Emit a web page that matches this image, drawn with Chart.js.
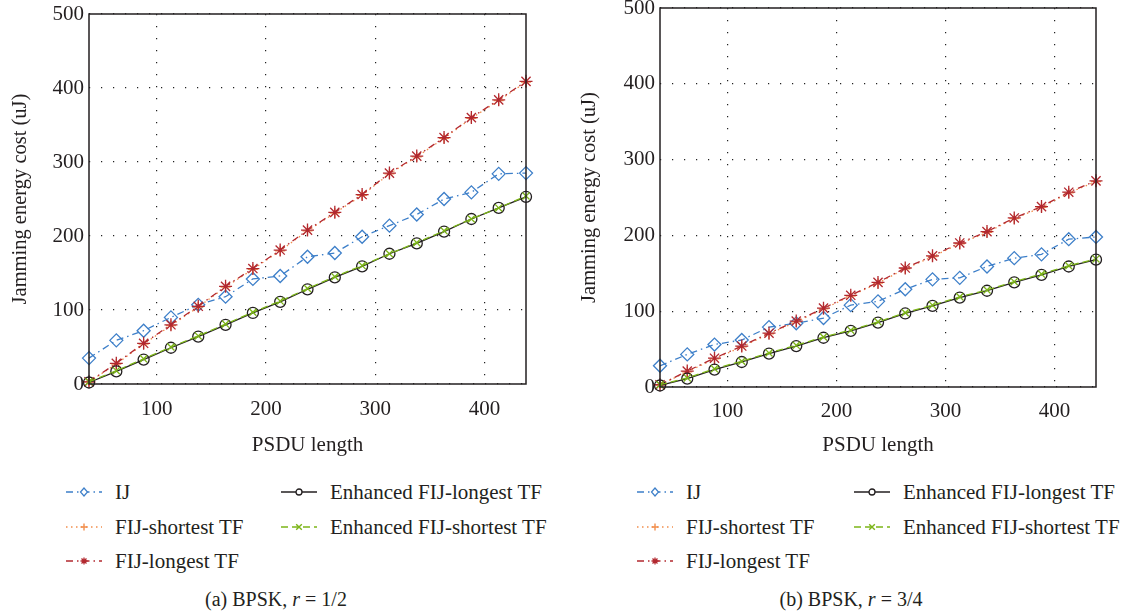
<!DOCTYPE html>
<html>
<head>
<meta charset="utf-8">
<script src="https://cdn.jsdelivr.net/npm/chart.js@4.4.1/dist/chart.umd.min.js"></script>
<style>
body{margin:0;background:#fff;width:1126px;height:616px;position:relative;overflow:hidden;font-family:"Liberation Serif",serif;color:#231f20}
.panel{position:absolute;top:0;width:563px;height:460px}
.item{position:absolute;white-space:nowrap;display:flex;align-items:center;font-size:21px;height:24px;margin-top:-12px}
.item svg{margin-right:13px}
.caption{position:absolute;top:588px;font-size:20px;transform:translateX(-50%);white-space:nowrap}
</style>
</head>
<body>
<div class="panel" style="left:0"><canvas id="chartA" width="563" height="460"></canvas></div>
<div class="panel" style="left:563px"><canvas id="chartB" width="563" height="460"></canvas></div>
<div id="legendA"></div>
<div id="legendB"></div>
<div class="caption" style="left:276px">(a) BPSK, <i>r</i> = 1/2</div>
<div class="caption" style="left:851px">(b) BPSK, <i>r</i> = 3/4</div>
<script>
// PSDU length (x values)
const psdu = [38, 63, 88, 113, 138, 163, 188, 213, 238, 263, 288, 313, 338, 363, 388, 413, 438];
const yTicks = [0, 100, 200, 300, 400, 500];
const xTicks = [100, 200, 300, 400];

// (a) BPSK r = 1/2
const ijA        = [35, 59, 72, 90, 107, 118, 142, 146, 172, 177, 199, 214, 229, 250, 259, 284, 285];
const fijShortA  = [3, 27, 54, 79, 104, 131, 155, 180, 207, 231, 255, 284, 307, 332, 359, 383, 408];
const fijLongA   = [3, 28, 55, 80, 105, 132, 156, 181, 208, 232, 256, 285, 308, 333, 360, 384, 409];
const enhLongA   = [2, 17, 33, 49, 64, 80, 96, 111, 128, 144, 159, 176, 190, 206, 223, 238, 253];
const enhShortA  = [3, 18, 34, 50, 65, 81, 97, 112, 129, 145, 160, 176, 191, 207, 223, 238, 254];

// (b) BPSK r = 3/4
const ijB        = [28, 43, 56, 62, 79, 84, 91, 108, 113, 129, 142, 144, 159, 170, 175, 195, 198];
const fijShortB  = [3, 20, 37, 53, 70, 86, 103, 120, 137, 156, 172, 189, 204, 222, 237, 256, 271];
const fijLongB   = [3, 21, 38, 54, 71, 87, 104, 121, 138, 157, 173, 190, 205, 223, 238, 257, 272];
const enhLongB   = [2, 11, 23, 33, 44, 54, 65, 74, 85, 97, 107, 118, 127, 138, 148, 159, 168];
const enhShortB  = [3, 12, 24, 34, 45, 55, 66, 75, 86, 98, 108, 119, 128, 139, 149, 160, 169];

const seriesNames = ['IJ', 'FIJ-shortest TF', 'FIJ-longest TF', 'Enhanced FIJ-longest TF', 'Enhanced FIJ-shortest TF'];

const styles = [
  {color:'#3d7fc9', dash:[7,4,1.5,4], point:'rectRot', r:6.5, order:4},
  {color:'#f28e4c', dash:[1.5,3.5], point:'cross', r:5, order:3},
  {color:'#b2282f', dash:[7,4,1.5,4], point:'star', r:6.5, order:2},
  {color:'#231f20', dash:[], point:'circle', r:5.5, order:1},
  {color:'#7cb518', dash:[7,4], point:'crossRot', r:5, order:0}
];

const ink = '#231f20';
Chart.defaults.font.family = '"Liberation Serif", serif';
Chart.defaults.font.size = 21;
Chart.defaults.color = ink;

const boxPlugin = {
  id: 'box',
  afterDraw(chart){
    const {ctx, chartArea:a} = chart;
    ctx.save();
    ctx.strokeStyle = ink;
    ctx.lineWidth = 1.5;
    ctx.strokeRect(a.left, a.top, a.right - a.left, a.bottom - a.top);
    ctx.restore();
  }
};

function makeChart(id, data, g){
  const datasets = data.map((vals, i) => {
    const s = styles[i];
    return {
      label: seriesNames[i],
      data: psdu.map((x, k) => ({x, y: vals[k]})),
      borderColor: s.color,
      borderWidth: 1.3,
      borderDash: s.dash,
      pointStyle: s.point,
      pointRadius: s.r,
      pointBorderColor: s.color,
      pointBorderWidth: 1.3,
      pointBackgroundColor: 'transparent',
      tension: 0,
      clip: false,
      order: s.order
    };
  });
  return new Chart(document.getElementById(id), {
    type: 'line',
    data: {datasets},
    plugins: [boxPlugin],
    options: {
      responsive: false,
      animation: false,
      layout: {padding: {top: g.top, right: g.right, left: 0, bottom: 0}},
      plugins: {legend: {display: false}, tooltip: {enabled: false}},
      scales: {
        x: {
          type: 'linear', min: psdu[0], max: psdu[psdu.length - 1],
          afterBuildTicks: sc => { sc.ticks = xTicks.map(v => ({value: v})); },
          afterFit: sc => { sc.height = g.xh; sc.paddingLeft = 0; sc.paddingRight = 0; },
          ticks: {padding: g.xpad, maxRotation: 0, includeBounds: false},
          grid: {color: '#222', lineWidth: 1.2, drawTicks: false},
          border: {display: false, dash: [1.2, 10.8]},
          title: {display: true, text: 'PSDU length', padding: {top: 0, bottom: 2}}
        },
        y: {
          min: 0, max: 500,
          afterBuildTicks: sc => { sc.ticks = yTicks.map(v => ({value: v})); },
          afterFit: sc => { sc.width = g.left; sc.paddingTop = 0; sc.paddingBottom = 0; },
          ticks: {padding: 5},
          grid: {color: '#222', lineWidth: 1.2, drawTicks: false},
          border: {display: false, dash: [1.2, 10.8]},
          title: {display: true, text: 'Jamming energy cost (uJ)', font: {size: 20.5}, padding: {top: g.ytp, bottom: 0}}
        }
      }
    }
  });
}

makeChart('chartA', [ijA, fijShortA, fijLongA, enhLongA, enhShortA], {top:14, right:37, left:89, xh:76, xpad:13, ytp:8});
makeChart('chartB', [ijB, fijShortB, fijLongB, enhLongB, enhShortB], {top:8, right:30, left:97, xh:73, xpad:12, ytp:14});

// legend samples
function marker(s){
  const c = s.color, x = 18, y = 7;
  if (s.point === 'rectRot') return `<path d="M${x-3.5} ${y}L${x} ${y-4}L${x+3.5} ${y}L${x} ${y+4}Z" fill="#fff" stroke="${c}" stroke-width="1.2"/>`;
  if (s.point === 'cross') return `<path d="M${x-3.5} ${y}H${x+3.5}M${x} ${y-3.5}V${y+3.5}" stroke="${c}" stroke-width="1.4"/>`;
  if (s.point === 'star') return `<path d="M${x-3.5} ${y}H${x+3.5}M${x} ${y-3.5}V${y+3.5}M${x-2.5} ${y-2.5}L${x+2.5} ${y+2.5}M${x-2.5} ${y+2.5}L${x+2.5} ${y-2.5}" stroke="${c}" stroke-width="1.3"/>`;
  if (s.point === 'circle') return `<circle cx="${x}" cy="${y}" r="3" fill="#fff" stroke="${c}" stroke-width="1.3"/>`;
  return `<path d="M${x-2.8} ${y-2.8}L${x+2.8} ${y+2.8}M${x-2.8} ${y+2.8}L${x+2.8} ${y-2.8}" stroke="${c}" stroke-width="1.4"/>`;
}
function sample(s){
  const dash = s.dash.length ? `stroke-dasharray="${s.dash.join(',')}"` : '';
  return `<svg width="36" height="14"><line x1="0" y1="7" x2="36" y2="7" stroke="${s.color}" stroke-width="1.4" ${dash}/>${marker(s)}</svg>`;
}
function legend(id, cols){
  const rows = [492, 527, 561];
  const slots = [[0,0],[0,1],[0,2],[1,0],[1,1]];
  document.getElementById(id).innerHTML = seriesNames.map((n, i) => {
    const [c, r] = slots[i];
    return `<div class="item" style="left:${cols[c]}px;top:${rows[r]}px">${sample(styles[i])}<span>${n}</span></div>`;
  }).join('');
}
legend('legendA', [66, 281]);
legend('legendB', [637, 854]);
</script>
</body>
</html>
